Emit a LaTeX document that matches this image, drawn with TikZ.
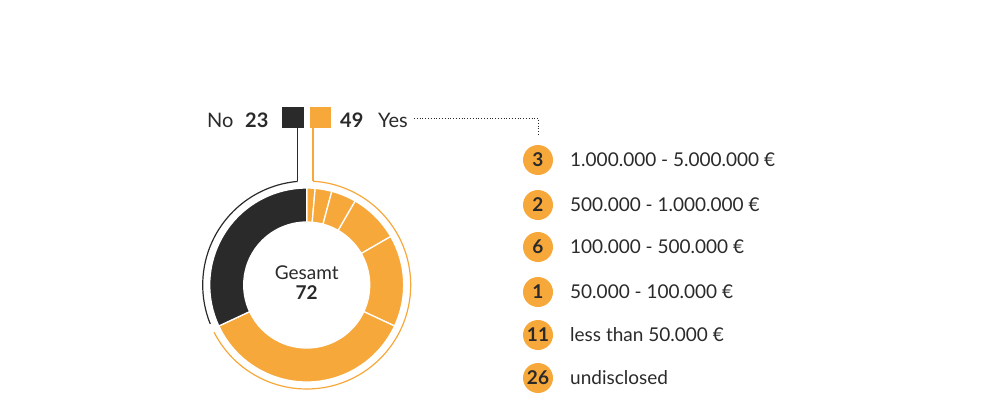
\documentclass[tikz,border=0pt]{standalone}
\usepackage{fontspec}
\setmainfont{Lato}
\usetikzlibrary{calc}
\definecolor{org}{HTML}{F7A83A}
\definecolor{blk}{HTML}{2A2A2A}
\begin{document}
\begin{tikzpicture}[x=1pt,y=1pt,
  lbl/.style={font=\fontsize{20}{22}\selectfont, text=blk, inner sep=0pt, anchor=base west},
  num/.style={font=\fontsize{20}{22}\selectfont\bfseries, text=blk, inner sep=0pt, anchor=base west},
  badge/.style={circle, fill=org, minimum size=30pt, inner sep=0pt, text=blk, font=\fontsize{19}{20}\selectfont\bfseries},
  item/.style={font=\fontsize{19}{21}\selectfont, text=blk, anchor=west, inner sep=0pt},
  seg/.style={draw=white, line width=1.3pt}]
\useasboundingbox (0,0) rectangle (1000,400);
\coordinate (c) at (306.7,115);
\newcommand\mkseg[3]{\filldraw[seg, fill=#3] ($(c)+(#1:63)$) arc (#1:#2:63) -- ($(c)+(#2:97)$) arc (#2:#1:97) -- cycle;}
\mkseg{90}{85}{org}
\mkseg{85}{75}{org}
\mkseg{75}{60}{org}
\mkseg{60}{30}{org}
\mkseg{30}{-25}{org}
\mkseg{-25}{-155}{org}
\mkseg{-155}{-270}{blk}
\node[font=\fontsize{19}{21}\selectfont, text=blk, align=center, inner sep=0pt] (tot) at ($(c)+(0,2)$) {Gesamt\\[-1pt]\textbf{72}};
% outer arcs
\draw[blk, line width=1.2pt] ($(c)+(95:104)$) coordinate (ba) arc (95:202:104);
\draw[org, line width=1.2pt] ($(c)+(86.5:104)$) coordinate (oa) arc (86.5:-153:104);
% legend
\node[lbl] (no) at (207,273) {No};
\node[num] (n23) at (245,273) {23};
\node[fill=blk, minimum width=22pt, minimum height=21pt, inner sep=0pt] (sqb) at (293,282.5) {};
\node[fill=org, minimum width=21pt, minimum height=21pt, inner sep=0pt] (sqo) at (320.5,282.5) {};
\node[num] (n49) at (340,273) {49};
\node[lbl] (yes) at (378,273) {Yes};
\draw[blk, line width=1.2pt] (sqb.south -| ba) -- (ba);
\draw[org, line width=1.2pt] (sqo.south -| oa) -- (oa);
\coordinate (dc) at (538,282);
\draw[blk, line width=0.8pt, dotted] ($(yes.base east)+(6,9)$) -- (dc) -- (538,265) coordinate (de);
% items
\foreach \n/\t/\y/\k in {3/{1.000.000 - 5.000.000 €}/240/a, 2/{500.000 - 1.000.000 €}/195/b, 6/{100.000 - 500.000 €}/153/c, 1/{50.000 - 100.000 €}/108/d, 11/{less than 50.000 €}/65/e, 26/{undisclosed}/22/f}{
  \node[badge] (b\k) at (538,\y) {\n};
  \node[item] (t\k) at (570,\y) {\t};
}
\end{tikzpicture}
\end{document}
